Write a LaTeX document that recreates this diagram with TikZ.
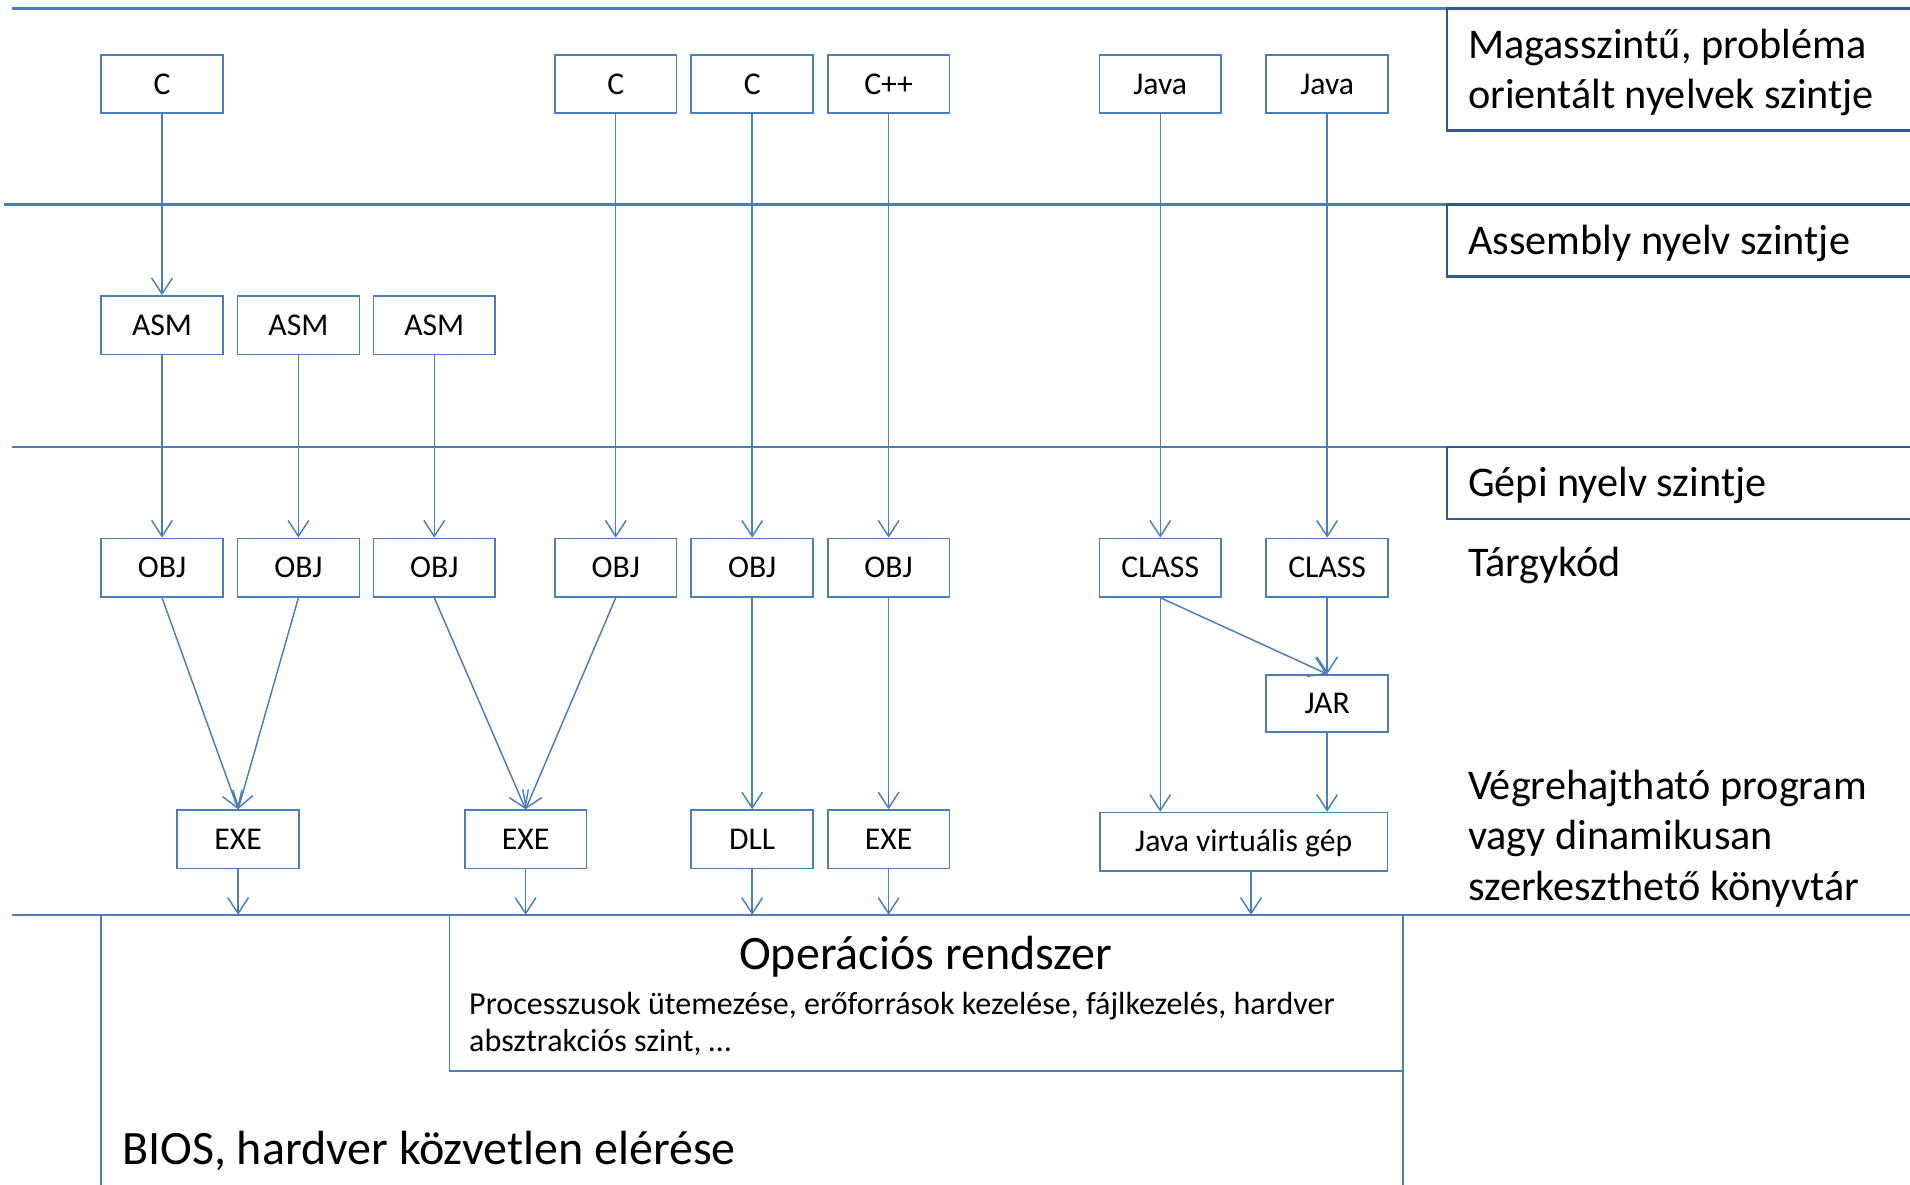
\documentclass[tikz,border=0pt]{standalone}
\usepackage{fontspec}
\setmainfont{Carlito}
\usetikzlibrary{arrows.meta}

\definecolor{conn}{RGB}{74,126,187}
\definecolor{lvlc}{RGB}{74,126,187}
\definecolor{labc}{RGB}{50,88,148}

\newcommand{\boxfont}{\fontsize{26}{31}\selectfont}
\newcommand{\levelfont}{\fontsize{34.7}{41}\selectfont}
\newcommand{\bigfont}{\fontsize{39.4}{47}\selectfont}
\newcommand{\smallfont}{\fontsize{26.3}{31}\selectfont}

\tikzset{
  lvl/.style={draw=lvlc, line width=2pt},
  labframe/.style={draw=labc, line width=2pt},
  osline/.style={draw=conn, line width=1.3pt},
  unit/.style={draw=conn, line width=1.3pt, fill=white,
    minimum width=100pt, minimum height=48pt, inner sep=0pt,
    font=\boxfont, text height=16.4pt, text depth=0pt},
  arr/.style={draw=conn, line width=1.2pt,
    -{Straight Barb[length=13pt,width=17pt,line width=1.2pt]}},
  lvltext/.style={anchor=base west, inner sep=0pt, font=\levelfont},
}

\begin{document}
\begin{tikzpicture}[x=1pt, y=-1pt]
\useasboundingbox (0,0) rectangle (1568,972);

% level separators
\draw[lvl] (10,7) -- (1575,7);
\draw[lvl] (3,168) -- (1575,168);
\draw[lvl] (10,367) -- (1575,367);
\draw[lvl] (10,751) -- (1575,751);

% level captions on the right
\draw[labframe] (1188,7) rectangle (1580,107);
\draw[labframe] (1188,168) rectangle (1580,227);
\draw[labframe] (1188,367) rectangle (1580,426);

\node[lvltext] (m1) at (1205,48) {Magasszintű, probléma};
\node[lvltext] (m2) at (1205,89) {orientált nyelvek szintje};
\node[lvltext] (asl) at (1205,209) {Assembly nyelv szintje};
\node[lvltext] (gpl) at (1205,408) {Gépi nyelv szintje};
\node[lvltext] (tk) at (1205,473) {Tárgykód};
\node[lvltext] (v1) at (1205,656) {Végrehajtható program};
\node[lvltext] (v2) at (1205,697) {vagy dinamikusan};
\node[lvltext] (v3) at (1205,739) {szerkeszthető könyvtár};

% operating system and BIOS layers
\draw[osline] (83,751) -- (83,980);
\draw[osline] (1152,751) -- (1152,980);
\draw[osline] (369,751) rectangle (1152,879);
\node[anchor=base, inner sep=0pt, font=\bigfont] (os) at (760,796) {Operációs rendszer};
\node[anchor=base west, inner sep=0pt, font=\smallfont] (os1) at (385,833) {Processzusok ütemezése, erőforrások kezelése, fájlkezelés, hardver};
\node[anchor=base west, inner sep=0pt, font=\smallfont] (os2) at (385,863) {absztrakciós szint, \dots};
\node[anchor=base west, inner sep=0pt, font=\bigfont] (bios) at (100,956) {BIOS, hardver közvetlen elérése};

% source files
\node[unit] (c1) at (133,69) {C};
\node[unit] (c2) at (505.5,69) {C};
\node[unit] (c3) at (617.5,69) {C};
\node[unit] (cpp) at (729.5,69) {C++};
\node[unit] (j1) at (952.5,69) {Java};
\node[unit] (j2) at (1089.5,69) {Java};

% assembly files
\node[unit] (a1) at (133,267) {ASM};
\node[unit] (a2) at (245,267) {ASM};
\node[unit] (a3) at (356.5,267) {ASM};

% object code
\node[unit] (o1) at (133,466) {OBJ};
\node[unit] (o2) at (245,466) {OBJ};
\node[unit] (o3) at (356.5,466) {OBJ};
\node[unit] (o4) at (505.5,466) {OBJ};
\node[unit] (o5) at (617.5,466) {OBJ};
\node[unit] (o6) at (729.5,466) {OBJ};
\node[unit] (k1) at (952.5,466) {CLASS};
\node[unit] (k2) at (1089.5,466) {CLASS};
\node[unit, minimum height=47pt] (jar) at (1089.5,577.5) {JAR};

% executables and libraries
\node[unit] (e1) at (195.5,689) {EXE};
\node[unit] (e2) at (431.5,689) {EXE};
\node[unit] (dll) at (617.5,689) {DLL};
\node[unit] (e3) at (729.5,689) {EXE};
\node[unit, minimum width=236pt] (jvm) at (1021,691) {Java virtuális gép};

% arrival points on the operating system line
\coordinate (t1) at (195.5,751);
\coordinate (t2) at (431.5,751);
\coordinate (t3) at (617.5,751);
\coordinate (t4) at (729.5,751);
\coordinate (t5) at (1027,751);

% translation steps
\draw[arr] (c1) -- (a1);
\draw[arr] (a1) -- (o1);
\draw[arr] (a2) -- (o2);
\draw[arr] (a3) -- (o3);
\draw[arr] (c2) -- (o4);
\draw[arr] (c3) -- (o5);
\draw[arr] (cpp) -- (o6);
\draw[arr] (j1) -- (k1);
\draw[arr] (j2) -- (k2);

% linking
\draw[arr] (o1.south) -- (e1.north);
\draw[arr] (o2.south) -- (e1.north);
\draw[arr] (o3.south) -- (e2.north);
\draw[arr] (o4.south) -- (e2.north);
\draw[arr] (o5) -- (dll);
\draw[arr] (o6) -- (e3);
\draw[arr] (k1.south) -- (jar.north);
\draw[arr] (k2) -- (jar);
\draw[arr] (k1.south) -- (k1.south |- jvm.north);
\draw[arr] (jar.south) -- (jar.south |- jvm.north);

% handing over to the operating system
\draw[arr] (e1) -- (t1);
\draw[arr] (e2) -- (t2);
\draw[arr] (dll) -- (t3);
\draw[arr] (e3) -- (t4);
\draw[arr] (t5 |- jvm.south) -- (t5);
\end{tikzpicture}
\end{document}
